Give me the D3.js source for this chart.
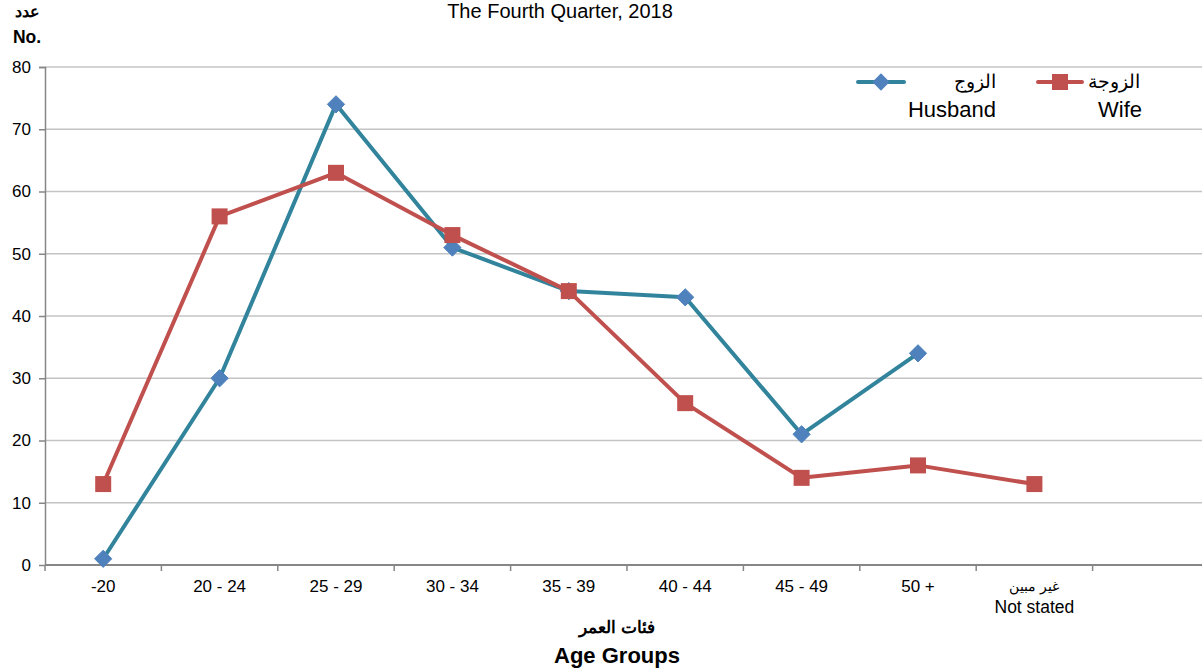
<!DOCTYPE html>
<html>
<head>
<meta charset="utf-8">
<script src="https://cdn.jsdelivr.net/npm/d3@7"></script>
<style>
  body { margin: 0; background: #fff; }
  svg { font-family: "Liberation Sans", Arial, sans-serif; }
</style>
</head>
<body>
<svg id="chart" width="1202" height="668"></svg>
<script>
// age groups (last slot is an empty category in the original sheet)
var categories = ["-20", "20 - 24", "25 - 29", "30 - 34", "35 - 39", "40 - 44", "45 - 49", "50 +", "na", ""];
var husband = [1, 30, 74, 51, 44, 43, 21, 34, null];
var wife = [13, 56, 63, 53, 44, 26, 14, 16, 13];
var yTicks = [0, 10, 20, 30, 40, 50, 60, 70, 80];

var svg = d3.select("#chart");
var margin = { left: 45, top: 67, right: -7, bottom: 103 };
var width = 1202 - margin.left - margin.right;
var height = 668 - margin.top - margin.bottom;

var x = d3.scaleBand().domain(categories).range([0, width]);
var y = d3.scaleLinear().domain([0, 80]).range([height, 0]);

var g = svg.append("g").attr("transform", `translate(${margin.left},${margin.top})`);

// gridlines
g.append("g")
  .selectAll("line")
  .data(yTicks.filter((d) => d > 0))
  .enter()
  .append("line")
  .attr("x1", 0)
  .attr("x2", width)
  .attr("y1", (d) => y(d))
  .attr("y2", (d) => y(d))
  .style("stroke", "#c4c4c4")
  .style("stroke-width", "1.3px");

// y axis
var yAxis = g.append("g").call(d3.axisLeft(y).tickValues(yTicks).tickSize(6).tickPadding(8));
yAxis.selectAll("path, line").style("stroke", "#868686").style("stroke-width", "1.5px");
yAxis.select(".domain").attr("d", `M-6,0.5H0.5V${height}`);
yAxis.selectAll("text").style("font-size", "17px").style("fill", "#000").style("font-family", "Liberation Sans, Arial");

// x axis with ticks on band edges
var xg = g.append("g").attr("transform", `translate(0,${height})`);
xg.append("line")
  .attr("x1", 0)
  .attr("x2", width)
  .style("stroke", "#868686")
  .style("stroke-width", "2px");
xg.selectAll(".xtick")
  .data(categories)
  .enter()
  .append("line")
  .attr("x1", (d) => x(d))
  .attr("x2", (d) => x(d))
  .attr("y1", 0)
  .attr("y2", 6)
  .style("stroke", "#868686")
  .style("stroke-width", "1.5px");

xg.selectAll(".xlabel")
  .data(categories.slice(0, 8))
  .enter()
  .append("text")
  .text((d) => d)
  .attr("x", (d) => x(d) + x.bandwidth() / 2)
  .attr("y", 27)
  .style("text-anchor", "middle")
  .style("font-size", "17px");

// "not stated" label, two lines
var ns = xg.append("text")
  .attr("x", x("na") + x.bandwidth() / 2)
  .attr("y", 26)
  .style("text-anchor", "middle");
ns.append("tspan").attr("x", x("na") + x.bandwidth() / 2).text("غير مبين").style("font-size", "14px");
ns.append("tspan").attr("x", x("na") + x.bandwidth() / 2).attr("dy", 22).text("Not stated").style("font-size", "17.5px");

// lines
var line = d3.line()
  .defined((d) => d != null)
  .x((d, i) => x(categories[i]) + x.bandwidth() / 2)
  .y((d) => y(d));

g.append("path")
  .datum(husband)
  .attr("d", line)
  .style("fill", "none")
  .style("stroke", "#31849b")
  .style("stroke-width", "4px")
  .style("stroke-linejoin", "round");

g.append("path")
  .datum(wife)
  .attr("d", line)
  .style("fill", "none")
  .style("stroke", "#c0504d")
  .style("stroke-width", "4px")
  .style("stroke-linejoin", "round");

// markers
var diamond = d3.symbol().type(d3.symbolDiamond2).size(190);
g.selectAll(".hm")
  .data(husband.map((v, i) => ({ v, i })).filter((d) => d.v != null))
  .enter()
  .append("path")
  .attr("d", diamond)
  .attr("transform", (d) => `translate(${x(categories[d.i]) + x.bandwidth() / 2},${y(d.v)})`)
  .style("fill", "#4f81bd")
  .style("stroke", "#4f81bd")
  .style("stroke-width", "1px");

g.selectAll(".wm")
  .data(wife.map((v, i) => ({ v, i })))
  .enter()
  .append("rect")
  .attr("x", (d) => x(categories[d.i]) + x.bandwidth() / 2 - 8)
  .attr("y", (d) => y(d.v) - 8)
  .attr("width", 16)
  .attr("height", 16)
  .style("fill", "#c0504d");

// legend
var lg = svg.append("g");
lg.append("line").attr("x1", 858).attr("x2", 904).attr("y1", 82).attr("y2", 82)
  .style("stroke", "#31849b").style("stroke-width", "4px").style("stroke-linecap", "round");
lg.append("path").attr("d", diamond).attr("transform", "translate(881,82)").style("fill", "#4f81bd");
lg.append("text").text("الزوج").attr("x", 996).attr("y", 88).style("text-anchor", "end").style("font-size", "19px");
lg.append("text").text("Husband").attr("x", 996).attr("y", 117).style("text-anchor", "end").style("font-size", "22px");

lg.append("line").attr("x1", 1038).attr("x2", 1082).attr("y1", 82).attr("y2", 82)
  .style("stroke", "#c0504d").style("stroke-width", "4px").style("stroke-linecap", "round");
lg.append("rect").attr("x", 1052).attr("y", 74).attr("width", 16).attr("height", 16).style("fill", "#c0504d");
lg.append("text").text("الزوجة").attr("x", 1140).attr("y", 88).style("text-anchor", "end").style("font-size", "19px");
lg.append("text").text("Wife").attr("x", 1142).attr("y", 117).style("text-anchor", "end").style("font-size", "22px");

// titles
svg.append("text").text("The Fourth Quarter, 2018")
  .attr("x", 560).attr("y", 18).style("text-anchor", "middle").style("font-size", "20px");
svg.append("text").text("عدد")
  .attr("x", 27).attr("y", 17).style("text-anchor", "middle").style("font-size", "16px").style("font-weight", "bold");
svg.append("text").text("No.")
  .attr("x", 27).attr("y", 43).style("text-anchor", "middle").style("font-size", "17.5px").style("font-weight", "bold");
svg.append("text").text("فئات العمر")
  .attr("x", 617).attr("y", 633).style("text-anchor", "middle").style("font-size", "17px").style("font-weight", "bold");
svg.append("text").text("Age Groups")
  .attr("x", 617).attr("y", 663).style("text-anchor", "middle").style("font-size", "22px").style("font-weight", "bold");
</script>
</body>
</html>
